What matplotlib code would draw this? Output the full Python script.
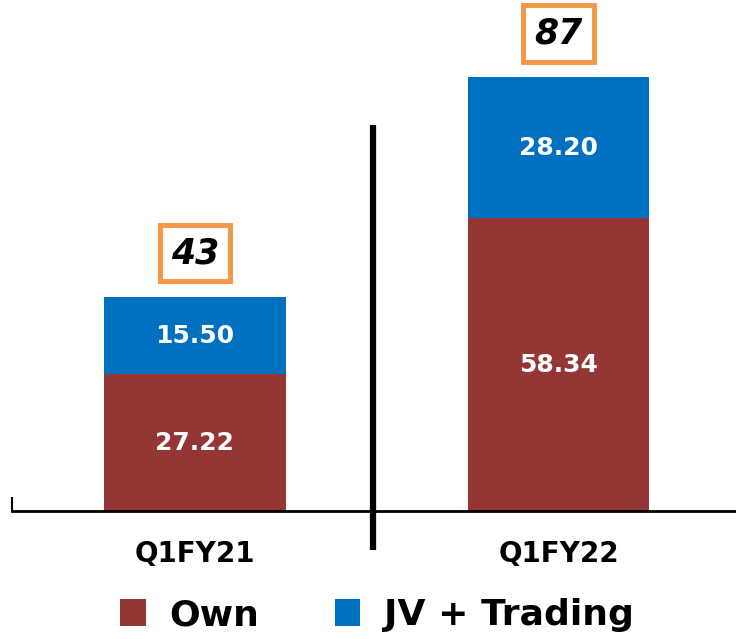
import matplotlib.pyplot as plt
import numpy as np
from matplotlib.patches import Patch

periods = ["Q1FY21", "Q1FY22"]
own = [27.22, 58.34]
jv_trading = [15.50, 28.20]
totals = ["43", "87"]

RED = "#943634"
BLUE = "#0070C0"
ORANGE = "#F79646"
FONT = "DejaVu Sans"

W, H = 736, 639
fig = plt.figure(figsize=(W / 100, H / 100), dpi=100)
ax = fig.add_axes([12 / W, 1 - 511 / H, 1 - 12 / W, 511 / H])

x = np.arange(len(periods))
ax.bar(x, own, width=0.5, color=RED)
ax.bar(x, jv_trading, width=0.5, bottom=own, color=BLUE)

ax.set_xlim(-0.503, 1.488)
ax.set_ylim(0, 101.9)

for i in range(len(periods)):
    ax.text(x[i], own[i] / 2, f"{own[i]:.2f}", ha="center", va="center",
            color="white", fontsize=18, fontweight="bold", family=FONT)
    ax.text(x[i], own[i] + jv_trading[i] / 2, f"{jv_trading[i]:.2f}", ha="center", va="center",
            color="white", fontsize=18, fontweight="bold", family=FONT)
    top = own[i] + jv_trading[i]
    ax.text(x[i], top + 8.7, totals[i], ha="center", va="center", fontsize=25,
            fontweight="bold", fontstyle="italic", family=FONT,
            bbox=dict(boxstyle="square,pad=0.32", facecolor="white", edgecolor=ORANGE, linewidth=3.5))

# divider between periods
ax.plot([0.49, 0.49], [-7.8, 77], color="black", linewidth=4.5, clip_on=False, solid_capstyle="butt")
# small tick at the left end of the axis
ax.plot([-0.503, -0.503], [0, 2.6], color="black", linewidth=1.5, clip_on=False)

for s in ["top", "right", "left"]:
    ax.spines[s].set_visible(False)
ax.spines["bottom"].set_linewidth(2)
ax.yaxis.set_visible(False)
ax.tick_params(axis="x", length=0, pad=21)
ax.set_xticks(x)
ax.set_xticklabels(periods, fontsize=20, fontweight="bold", family=FONT)

handles = [Patch(facecolor=RED, label="Own"), Patch(facecolor=BLUE, label="JV + Trading")]
fig.legend(handles=handles, loc="center", bbox_to_anchor=(377 / W, 1 - 615 / H), ncol=2,
           frameon=False, prop={"family": FONT, "size": 26, "weight": "bold"},
           handlelength=0.7, handleheight=0.75, handletextpad=0.65, columnspacing=2.1)

fig.savefig("out.png", dpi=100)
